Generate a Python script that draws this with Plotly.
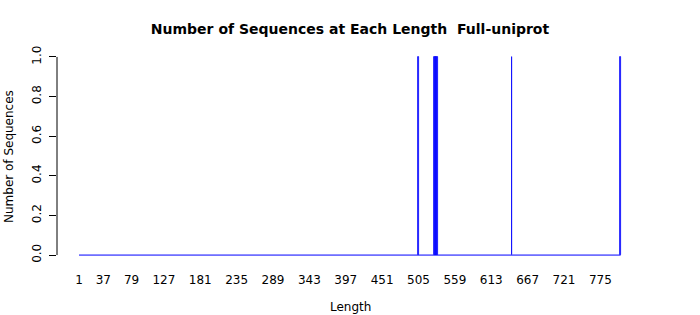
import plotly.graph_objects as go

# Data
lengths = [505, 529, 530, 531, 532, 533, 644, 805]
counts = [1, 1, 1, 1, 1, 1, 1, 1]
min_len = 1
max_len = 805
x_tick_labels = [1, 37, 79, 127, 181, 235, 289, 343, 397, 451, 505, 559, 613, 667, 721, 775]
y_ticks = [0.0, 0.2, 0.4, 0.6, 0.8, 1.0]

FONT = "DejaVu Sans"

fig = go.Figure()
fig.add_trace(go.Bar(
    x=lengths, y=counts, width=0.9,
    marker=dict(color="#5a5aff", line=dict(color="#0000ff", width=0.8)),
    showlegend=False,
))

# baseline (borders of zero-count bars)
fig.add_shape(type="line", xref="x", yref="y", x0=min_len, x1=max_len, y0=0, y1=0,
              line=dict(color="#0000ff", width=1))
# y axis line from 0 to 1 (R style)
fig.add_shape(type="line", xref="paper", yref="y", x0=0, x1=0, y0=0, y1=1,
              line=dict(color="black", width=1))

fig.update_layout(
    width=700, height=315,
    margin=dict(l=57, r=57, t=49, b=52),
    paper_bgcolor="white", plot_bgcolor="white",
    font=dict(family=FONT, size=12, color="black"),
    title=dict(text="<b>Number of Sequences at Each Length  Full-uniprot</b>",
               x=0.5, xanchor="center", y=1 - 29 / 315, yanchor="middle",
               font=dict(size=14, family=FONT, color="black")),
    bargap=0,
)
fig.update_xaxes(
    range=[-31.7, 838.3], tickmode="array", tickvals=x_tick_labels,
    ticktext=[str(v) for v in x_tick_labels], ticks="", showline=False,
    showgrid=False, zeroline=False, ticklabelstandoff=8,
    tickfont=dict(size=12, family=FONT),
)
fig.update_yaxes(
    range=[-0.04, 1.04], tickmode="array", tickvals=y_ticks,
    ticktext=[f"{v:.1f}" for v in y_ticks], ticks="outside", ticklen=7,
    tickcolor="black", tickwidth=1, showline=False, showgrid=False,
    zeroline=False, tickangle=-90, ticklabelstandoff=3,
    tickfont=dict(size=12, family=FONT),
)
fig.add_annotation(text="Length", xref="paper", yref="paper",
                   x=(350 - 57) / 586, y=(263 - 307) / 214,
                   xanchor="center", yanchor="middle", showarrow=False,
                   font=dict(size=12, family=FONT))
fig.add_annotation(text="Number of Sequences", xref="paper", yref="paper",
                   x=(9 - 57) / 586, y=(263 - 157) / 214, textangle=-90,
                   xanchor="center", yanchor="middle", showarrow=False,
                   font=dict(size=12, family=FONT))

fig.write_html("out.html")
